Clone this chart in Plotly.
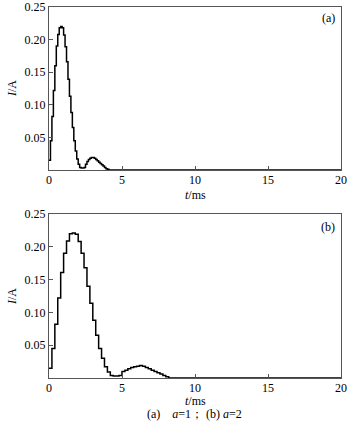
import plotly.graph_objects as go

# ---- data: panel (a), a=1, sampled every 0.1 ms ----
t_a = [0.0, 0.1, 0.2, 0.3, 0.4, 0.5, 0.6, 0.7, 0.8, 0.9,
       1.0, 1.1, 1.2, 1.3, 1.4, 1.5, 1.6, 1.7, 1.8, 1.9,
       2.0, 2.1, 2.2, 2.3, 2.4, 2.5, 2.6, 2.7, 2.8, 2.9,
       3.0, 3.1, 3.2, 3.3, 3.4, 3.5, 3.6, 3.7, 3.8, 3.9,
       4.0, 4.1, 20.0]
i_a = [0.015, 0.045, 0.082, 0.122, 0.160, 0.190, 0.208, 0.218, 0.220, 0.218,
       0.207, 0.189, 0.166, 0.139, 0.113, 0.088, 0.065, 0.045, 0.029, 0.017,
       0.009, 0.004, 0.003, 0.003, 0.004, 0.009, 0.013, 0.016, 0.018, 0.019,
       0.019, 0.018, 0.016, 0.014, 0.012, 0.010, 0.008, 0.006, 0.004, 0.002,
       0.001, 0.0, 0.0]

# ---- data: panel (b), a=2, sampled every 0.2 ms ----
t_b = [0.0, 0.2, 0.4, 0.6, 0.8, 1.0, 1.2, 1.4, 1.6, 1.8,
       2.0, 2.2, 2.4, 2.6, 2.8, 3.0, 3.2, 3.4, 3.6, 3.8,
       4.0, 4.2, 4.4, 4.6, 4.8, 5.0, 5.2, 5.4, 5.6, 5.8,
       6.0, 6.2, 6.4, 6.6, 6.8, 7.0, 7.2, 7.4, 7.6, 7.8,
       8.0, 8.2, 20.0]
i_b = [0.015, 0.045, 0.082, 0.122, 0.161, 0.190, 0.209, 0.220, 0.221, 0.219,
       0.208, 0.190, 0.168, 0.140, 0.114, 0.088, 0.065, 0.045, 0.030, 0.017,
       0.009, 0.004, 0.003, 0.003, 0.004, 0.010, 0.012, 0.014, 0.016, 0.017,
       0.018, 0.019, 0.018, 0.016, 0.014, 0.012, 0.010, 0.008, 0.006, 0.004,
       0.002, 0.0, 0.0]

x_ticks = [0, 5, 10, 15, 20]
y_ticks = [0.05, 0.10, 0.15, 0.20, 0.25]
y_ticktext = ["0.05", "0.10", "0.15", "0.20", "0.25"]

FONT = "Liberation Serif"
AXC = "#555555"

fig = go.Figure()
fig.add_trace(go.Scatter(x=t_a, y=i_a, mode="lines", line=dict(shape="hv", color="black", width=1.5),
                         xaxis="x", yaxis="y", showlegend=False, hoverinfo="skip"))
fig.add_trace(go.Scatter(x=t_b, y=i_b, mode="lines", line=dict(shape="hv", color="black", width=1.5),
                         xaxis="x2", yaxis="y2", showlegend=False, hoverinfo="skip"))

H = 436
top_a, bot_a = 7, 170
top_b, bot_b = 214, 378
mt, mb = 7, H - 378
ph = H - mt - mb

def dom(top, bot):
    return [(378 - bot) / ph, (378 - top) / ph]

xcommon = dict(range=[0, 20], tickvals=x_ticks, ticks="inside", ticklen=4, tickcolor=AXC,
               showline=True, linecolor=AXC, linewidth=1.2, mirror=True, showgrid=False,
               zeroline=False, automargin=False, ticklabeloverflow="allow", ticklabelstandoff=-2,
               tickfont=dict(family=FONT, size=12, color="black"))
ycommon = dict(range=[0, 0.25], tickvals=y_ticks, ticktext=y_ticktext, ticks="inside", ticklen=4,
               tickcolor=AXC, showline=True, linecolor=AXC, linewidth=1.2, mirror=True,
               showgrid=False, zeroline=False, automargin=False, ticklabeloverflow="allow",
               tickfont=dict(family=FONT, size=12, color="black"))

fig.update_layout(
    template="none",
    width=350, height=H,
    margin=dict(l=49, r=9, t=mt, b=mb, autoexpand=False),
    paper_bgcolor="white", plot_bgcolor="white",
    font=dict(family=FONT, color="black"),
    showlegend=False,
    xaxis=dict(**xcommon, domain=[0, 1], anchor="y"),
    yaxis=dict(**ycommon, domain=dom(top_a, bot_a), anchor="x"),
    xaxis2=dict(**xcommon, domain=[0, 1], anchor="y2"),
    yaxis2=dict(**ycommon, domain=dom(top_b, bot_b), anchor="x2"),
)

def py(ypx):
    return (378 - ypx) / ph

pw = 350 - 49 - 9

ann = []
ann.append(dict(text="(a)", x=1, xref="paper", xanchor="right", xshift=-4,
                y=py(18), yref="paper", yanchor="middle", showarrow=False,
                font=dict(family=FONT, size=12)))
ann.append(dict(text="(b)", x=1, xref="paper", xanchor="right", xshift=-4,
                y=py(227), yref="paper", yanchor="middle", showarrow=False,
                font=dict(family=FONT, size=12)))
for yc in (195, 401):
    ann.append(dict(text="<i>t</i>/ms", x=0.5, xref="paper", xanchor="center",
                    y=py(yc), yref="paper", yanchor="middle", showarrow=False,
                    font=dict(family=FONT, size=12)))
for yc in (89, 297):
    ann.append(dict(text="<i>I</i>/A", x=(12 - 49) / pw, xref="paper", xanchor="center",
                    y=py(yc), yref="paper", yanchor="middle", showarrow=False, textangle=-90,
                    font=dict(family=FONT, size=12)))
ann.append(dict(text="(a)&nbsp;&nbsp;&nbsp;&nbsp;<i>a</i>=1；&nbsp;(b) <i>a</i>=2",
                x=(194 - 49) / pw, xref="paper", xanchor="center",
                y=py(414), yref="paper", yanchor="middle", showarrow=False,
                font=dict(family=FONT, size=12)))
fig.update_layout(annotations=ann)

fig.write_html("out.html", config={"displayModeBar": False, "staticPlot": True},
               post_script="document.body.style.margin='0';document.body.style.overflow='hidden';")
